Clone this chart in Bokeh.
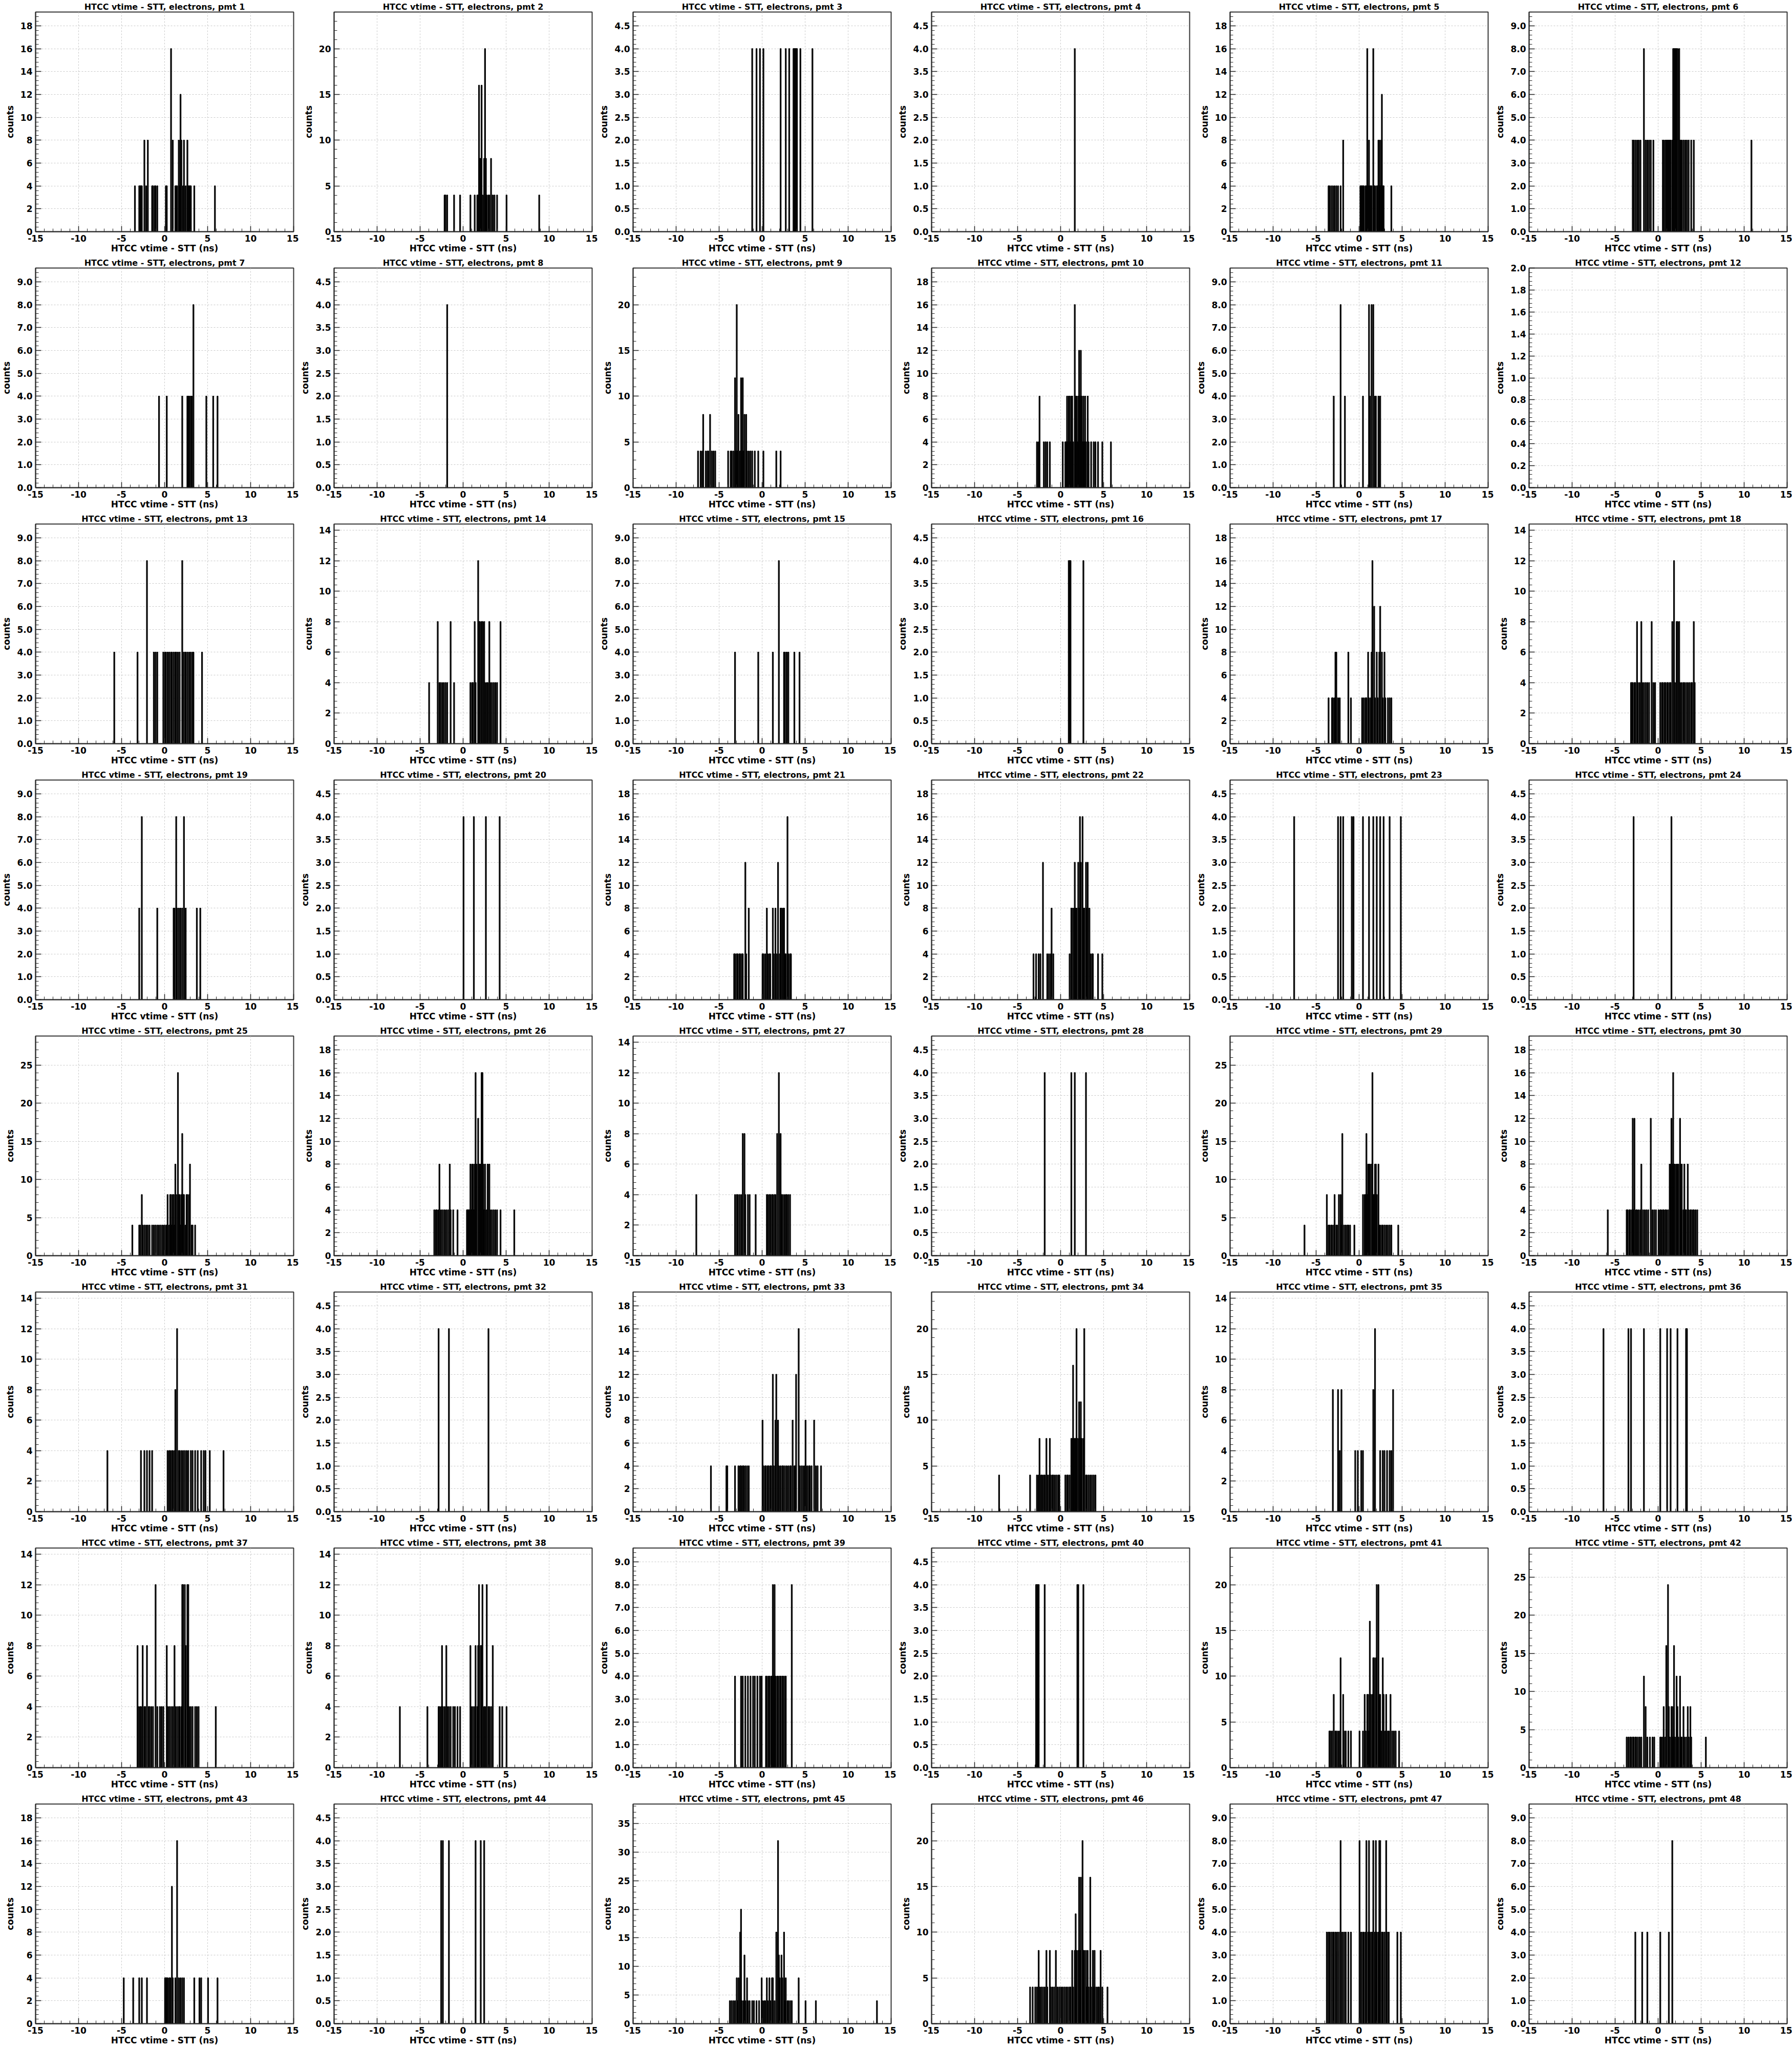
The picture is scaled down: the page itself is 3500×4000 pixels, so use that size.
import numpy as np
from bokeh.plotting import figure
from bokeh.layouts import gridplot
from bokeh.models import FixedTicker, NumeralTickFormatter, Range1d
from bokeh.embed import file_html
from bokeh.resources import INLINE

# ---------------- data: (time in ns, counts) of non-empty bins ----------------
pmt01 = [(-3.45,4),(-3.0,4),(-2.9,4),(-2.8,4),(-2.65,4),(-2.35,8),(-2.15,4),(-1.95,8),(-1.5,4),(-1.35,4),(-1.2,4),(-1.05,4),(-0.9,4),(0.15,4),(0.25,4),(0.75,16),(0.95,8),(1.2,4),(1.35,4),(1.45,4),(1.6,8),(1.75,4),(1.85,12),(1.95,8),(2.1,4),(2.25,8),(2.4,4),(2.6,8),(2.7,4),(2.8,4),(2.95,4),(3.05,4),(3.45,4),(5.85,4)]
pmt02 = [(-2.2,4),(-2.1,4),(-1.85,4),(-1.05,4),(-0.4,4),(0.8,4),(1.3,4),(1.6,4),(1.75,4),(1.85,16),(1.95,8),(2.05,8),(2.15,16),(2.25,4),(2.4,8),(2.55,20),(2.65,8),(2.75,4),(2.9,4),(3.0,4),(3.2,8),(3.4,4),(3.6,4),(3.95,4),(5.0,4),(8.8,4)]
pmt03 = [(-1.2,4),(-0.65,4),(-0.25,4),(0.15,4),(2.15,4),(2.7,4),(3.1,4),(3.65,4),(3.75,4),(3.85,4),(3.95,4),(4.05,4),(4.45,4),(5.8,4)]
pmt04 = [(1.65,4)]
pmt05 = [(-3.6,4),(-3.5,4),(-3.3,4),(-3.05,4),(-2.85,4),(-2.65,4),(-2.45,4),(-2.15,4),(-1.9,8),(0.1,4),(0.2,4),(0.3,4),(0.45,4),(0.55,4),(0.7,4),(0.8,4),(0.9,16),(1.0,4),(1.1,8),(1.2,4),(1.3,4),(1.45,4),(1.6,16),(1.7,4),(1.85,4),(2.0,4),(2.15,4),(2.25,8),(2.35,8),(2.45,4),(2.55,8),(2.65,12),(2.75,4),(2.85,4),(3.75,4)]
pmt06 = [(-3.0,4),(-2.85,4),(-2.7,4),(-2.5,4),(-2.3,4),(-2.1,4),(-1.7,8),(-1.45,4),(-1.3,4),(-1.1,4),(-0.9,4),(-0.55,4),(0.5,4),(0.65,4),(0.8,4),(0.9,4),(1.0,4),(1.1,4),(1.2,4),(1.3,4),(1.45,4),(1.6,4),(1.75,8),(1.85,8),(1.95,8),(2.05,8),(2.15,8),(2.25,8),(2.4,8),(2.5,4),(2.6,4),(2.75,4),(2.95,4),(3.1,4),(3.3,4),(3.55,4),(3.8,4),(4.15,4),(10.8,4)]
pmt07 = [(-0.65,4),(0.25,4),(2.05,4),(2.6,4),(2.75,4),(2.85,4),(3.0,4),(3.1,4),(3.35,8),(4.85,4),(5.65,4),(6.1,4)]
pmt08 = [(-1.9,4)]
pmt09 = [(-7.5,4),(-7.2,4),(-7.0,4),(-6.85,8),(-6.6,4),(-6.4,4),(-6.3,4),(-6.05,8),(-5.9,4),(-5.7,4),(-5.5,4),(-3.95,4),(-3.7,4),(-3.55,4),(-3.4,4),(-3.15,12),(-3.05,4),(-2.95,20),(-2.85,4),(-2.75,8),(-2.6,4),(-2.5,12),(-2.4,4),(-2.25,12),(-2.15,4),(-2.05,8),(-1.9,8),(-1.75,4),(-1.6,4),(-1.4,4),(-1.2,4),(-0.9,4),(-0.5,4),(0.1,4),(1.6,4),(2.1,4)]
pmt10 = [(-2.75,4),(-2.6,4),(-2.45,8),(-2.0,4),(-1.75,4),(-1.55,4),(-1.3,4),(0.25,4),(0.5,4),(0.65,4),(0.75,8),(0.85,4),(0.95,8),(1.05,8),(1.15,4),(1.25,8),(1.35,8),(1.45,4),(1.6,16),(1.7,8),(1.8,8),(1.9,4),(2.0,8),(2.1,12),(2.2,8),(2.35,12),(2.45,8),(2.55,4),(2.65,8),(2.75,4),(2.85,8),(2.95,4),(3.1,8),(3.2,4),(3.55,4),(3.8,4),(4.05,4),(4.35,4),(4.8,4),(5.85,4)]
pmt11 = [(-2.95,4),(-2.15,8),(-1.65,4),(0.45,4),(1.1,8),(1.25,4),(1.4,8),(1.6,8),(1.8,4),(1.95,4),(2.2,4),(2.45,4)]
pmt12 = []
pmt13 = [(-5.9,4),(-3.2,4),(-2.1,8),(-1.3,4),(-1.1,4),(-0.85,4),(-0.15,4),(0.0,4),(0.15,4),(0.35,4),(0.55,4),(0.7,4),(0.85,4),(1.0,4),(1.2,4),(1.35,4),(1.55,4),(1.75,4),(2.0,8),(2.1,4),(2.3,4),(2.45,4),(2.6,4),(2.8,4),(3.05,4),(3.2,4),(3.35,4),(4.35,4)]
pmt14 = [(-4.0,4),(-3.0,8),(-2.8,4),(-2.65,4),(-2.45,4),(-2.3,4),(-2.05,4),(-1.85,4),(-1.5,8),(-1.05,4),(0.8,4),(1.0,4),(1.15,4),(1.3,8),(1.45,4),(1.7,12),(1.85,8),(1.95,8),(2.1,8),(2.25,8),(2.4,8),(2.55,4),(2.7,4),(2.85,4),(3.0,8),(3.15,4),(3.3,4),(3.5,4),(3.7,4),(3.9,4),(4.3,8)]
pmt15 = [(-3.2,4),(-0.45,4),(1.25,4),(1.9,8),(2.5,4),(2.65,4),(2.8,4),(3.0,4),(3.7,4),(4.35,4)]
pmt16 = [(0.9,4),(1.0,4),(1.1,4),(2.65,4)]
pmt17 = [(-3.6,4),(-3.2,4),(-3.05,4),(-2.9,4),(-2.75,8),(-2.65,8),(-2.5,4),(-2.3,4),(-1.25,8),(-1.0,4),(0.35,4),(0.55,4),(0.7,4),(0.85,4),(1.0,8),(1.15,4),(1.3,4),(1.4,8),(1.5,16),(1.7,12),(1.85,4),(2.0,8),(2.15,4),(2.3,8),(2.45,12),(2.6,8),(2.75,4),(2.9,8),(3.05,4),(3.3,4),(3.5,4),(3.7,4)]
pmt18 = [(-3.2,4),(-3.1,4),(-2.95,4),(-2.8,4),(-2.65,4),(-2.5,8),(-2.35,4),(-2.2,4),(-2.0,8),(-1.85,4),(-1.7,4),(-1.5,4),(-1.3,4),(-1.1,4),(-0.8,8),(-0.6,4),(-0.35,4),(0.25,4),(0.4,4),(0.55,4),(0.7,4),(0.85,4),(1.0,4),(1.15,4),(1.3,4),(1.45,4),(1.6,8),(1.8,12),(1.95,4),(2.1,8),(2.25,8),(2.4,8),(2.55,4),(2.7,4),(2.9,4),(3.05,4),(3.25,4),(3.45,4),(3.6,4),(3.8,4),(3.95,4),(4.1,8),(4.25,4)]
pmt19 = [(-2.95,4),(-2.65,8),(-0.9,4),(1.0,4),(1.15,4),(1.3,8),(1.45,4),(1.65,4),(1.85,4),(2.05,4),(2.2,8),(2.45,4),(3.75,4),(4.15,4)]
pmt20 = [(0.0,4),(1.2,4),(2.65,4),(4.2,4)]
pmt21 = [(-3.3,4),(-3.15,4),(-3.0,4),(-2.85,4),(-2.7,4),(-2.55,4),(-2.4,4),(-2.25,4),(-2.0,12),(-1.85,4),(-1.6,8),(0.0,4),(0.15,4),(0.3,4),(0.5,8),(0.65,4),(0.8,4),(0.95,4),(1.2,8),(1.35,4),(1.55,8),(1.65,4),(1.85,12),(2.0,4),(2.1,8),(2.25,8),(2.4,8),(2.5,8),(2.6,4),(2.75,4),(2.9,16),(3.05,4),(3.2,4),(3.3,4)]
pmt22 = [(-3.15,4),(-2.85,4),(-2.6,4),(-2.4,4),(-2.1,12),(-1.6,4),(-1.4,4),(-1.2,4),(-1.05,8),(-0.9,4),(1.05,4),(1.2,8),(1.35,8),(1.5,8),(1.6,12),(1.75,8),(1.85,8),(2.0,12),(2.15,8),(2.25,16),(2.35,12),(2.5,16),(2.6,8),(2.75,8),(2.9,12),(3.0,8),(3.15,12),(3.3,8),(3.45,4),(3.6,4),(3.75,4),(4.35,4),(4.85,4)]
pmt23 = [(-7.55,4),(-2.45,4),(-2.2,4),(-1.9,4),(-0.85,4),(-0.65,4),(0.45,4),(1.1,4),(1.65,4),(2.05,4),(2.45,4),(2.85,4),(3.5,4),(4.8,4)]
pmt24 = [(-2.9,4),(1.5,4)]
pmt25 = [(-3.8,4),(-3.0,4),(-2.85,4),(-2.7,8),(-2.55,4),(-2.35,4),(-2.15,4),(-1.95,4),(-1.75,4),(-1.5,4),(-1.3,4),(-1.1,4),(-0.9,4),(-0.7,4),(-0.45,4),(-0.25,4),(-0.1,4),(0.1,4),(0.25,4),(0.35,8),(0.5,4),(0.6,8),(0.75,8),(0.85,4),(0.95,8),(1.05,8),(1.15,4),(1.25,12),(1.35,8),(1.5,24),(1.6,8),(1.7,8),(1.8,4),(1.9,8),(2.05,16),(2.15,8),(2.25,8),(2.4,4),(2.5,8),(2.65,8),(2.8,8),(2.95,12),(3.1,4),(3.25,4),(3.5,4)]
pmt26 = [(-3.35,4),(-3.2,4),(-3.05,4),(-2.9,4),(-2.75,8),(-2.6,4),(-2.4,4),(-2.2,4),(-2.0,4),(-1.8,4),(-1.6,8),(-1.45,4),(-1.2,4),(-0.65,4),(0.4,4),(0.5,4),(0.6,4),(0.7,4),(0.8,8),(0.9,4),(1.0,8),(1.1,8),(1.2,4),(1.3,8),(1.45,16),(1.55,8),(1.7,12),(1.8,8),(1.9,8),(2.0,8),(2.1,16),(2.2,16),(2.3,8),(2.4,4),(2.55,8),(2.7,4),(2.85,8),(3.0,8),(3.15,4),(3.3,4),(3.5,4),(3.7,4),(3.9,4),(4.35,4),(5.9,4)]
pmt27 = [(-7.7,4),(-3.15,4),(-3.0,4),(-2.85,4),(-2.65,4),(-2.45,4),(-2.25,8),(-2.1,8),(-1.95,4),(-1.7,4),(-1.45,4),(-0.8,4),(0.5,4),(0.65,4),(0.8,4),(0.95,4),(1.1,4),(1.25,4),(1.4,4),(1.55,4),(1.7,8),(1.9,12),(2.1,8),(2.2,4),(2.35,4),(2.5,4),(2.7,4),(2.85,4),(3.05,4),(3.2,4)]
pmt28 = [(-1.85,4),(1.25,4),(1.6,4),(2.95,4)]
pmt29 = [(-6.4,4),(-3.75,8),(-3.6,4),(-3.45,4),(-3.3,4),(-3.15,4),(-3.0,4),(-2.85,8),(-2.7,4),(-2.55,4),(-2.4,8),(-2.2,8),(-2.1,4),(-1.95,16),(-1.8,4),(-1.6,4),(-1.4,4),(-1.25,4),(-1.1,4),(-0.6,4),(0.45,8),(0.6,8),(0.7,8),(0.85,16),(0.95,8),(1.0,12),(1.15,12),(1.25,12),(1.4,12),(1.5,24),(1.6,8),(1.7,8),(1.8,12),(1.95,12),(2.05,8),(2.2,12),(2.3,4),(2.45,4),(2.6,4),(2.75,4),(2.9,4),(3.1,4),(3.3,4),(3.5,4),(3.75,4),(4.55,4)]
pmt30 = [(-5.9,4),(-3.7,4),(-3.55,4),(-3.4,4),(-3.25,4),(-3.1,4),(-3.0,12),(-2.85,4),(-2.75,12),(-2.6,4),(-2.45,4),(-2.3,4),(-2.1,4),(-1.95,8),(-1.8,4),(-1.6,4),(-1.4,4),(-1.2,4),(-0.9,12),(-0.7,4),(-0.45,4),(-0.25,4),(0.05,4),(0.2,4),(0.35,4),(0.5,4),(0.65,4),(0.8,4),(0.95,4),(1.1,4),(1.3,8),(1.4,8),(1.5,12),(1.6,8),(1.75,16),(1.85,8),(1.95,8),(2.1,8),(2.25,8),(2.35,8),(2.5,12),(2.6,8),(2.75,8),(2.9,4),(3.05,8),(3.15,4),(3.25,4),(3.4,8),(3.55,4),(3.7,4),(3.85,4),(4.0,4),(4.15,4),(4.35,4),(4.5,4)]
pmt31 = [(-6.65,4),(-2.75,4),(-2.4,4),(-2.1,4),(-1.8,4),(-1.5,4),(0.35,4),(0.5,4),(0.65,4),(0.8,4),(0.95,4),(1.1,4),(1.25,8),(1.45,12),(1.6,4),(1.75,4),(1.95,4),(2.1,4),(2.3,4),(2.5,4),(2.7,4),(3.0,4),(3.25,4),(3.5,4),(3.85,4),(4.2,4),(4.5,4),(4.75,4),(5.2,4),(6.85,4)]
pmt32 = [(-2.85,4),(-1.7,4),(2.95,4)]
pmt33 = [(-6.0,4),(-4.2,4),(-4.1,4),(-3.2,4),(-2.75,4),(-2.6,4),(-2.45,4),(-2.3,4),(-2.15,4),(-2.0,4),(-1.8,4),(-1.6,4),(0.0,8),(0.15,4),(0.3,4),(0.45,4),(0.6,4),(0.75,4),(0.9,4),(1.05,4),(1.25,12),(1.35,4),(1.5,8),(1.65,12),(1.8,8),(1.95,4),(2.1,4),(2.3,4),(2.45,4),(2.6,4),(2.8,4),(3.0,4),(3.2,4),(3.35,4),(3.55,8),(3.7,4),(3.85,4),(3.95,12),(4.2,16),(4.35,4),(4.5,4),(4.7,4),(4.9,4),(5.05,8),(5.2,4),(5.4,4),(5.55,4),(5.75,4),(6.05,8),(6.25,4),(6.45,4),(6.85,4)]
pmt34 = [(-7.2,4),(-3.6,4),(-2.75,4),(-2.6,4),(-2.45,8),(-2.3,4),(-2.15,4),(-2.0,4),(-1.85,4),(-1.7,8),(-1.55,4),(-1.4,4),(-1.3,8),(-1.15,4),(-1.0,4),(-0.85,4),(-0.65,4),(-0.45,4),(-0.3,4),(-0.15,4),(0.55,4),(0.7,4),(0.85,4),(1.0,4),(1.2,8),(1.3,8),(1.4,16),(1.5,8),(1.6,8),(1.75,8),(1.85,20),(1.95,8),(2.1,12),(2.2,8),(2.35,12),(2.45,8),(2.6,8),(2.75,20),(2.9,4),(3.05,4),(3.2,4),(3.4,4),(3.6,4),(3.8,4),(4.05,4)]
pmt35 = [(-3.1,8),(-2.45,8),(-2.3,4),(-2.1,8),(-0.45,4),(-0.2,4),(0.25,4),(0.45,4),(1.65,8),(1.8,12),(2.45,4),(2.7,4),(2.95,4),(3.2,4),(3.5,4),(3.75,4),(3.95,8)]
pmt36 = [(-6.4,4),(-3.5,4),(-3.15,4),(-1.65,4),(0.25,4),(1.05,4),(1.45,4),(2.25,4),(3.2,4),(3.35,4)]
pmt37 = [(-3.2,8),(-3.05,4),(-2.9,4),(-2.75,4),(-2.55,8),(-2.4,4),(-2.25,4),(-2.05,8),(-1.9,4),(-1.75,4),(-1.55,4),(-1.35,4),(-1.05,12),(-0.85,4),(-0.6,4),(-0.4,4),(-0.2,4),(0.2,8),(0.35,4),(0.55,4),(0.7,4),(0.9,4),(1.1,8),(1.25,4),(1.4,4),(1.6,4),(1.75,4),(1.9,4),(2.05,12),(2.15,12),(2.3,12),(2.45,8),(2.6,12),(2.7,12),(2.85,4),(3.05,4),(3.25,4),(3.5,4),(3.75,4),(3.95,4),(5.9,4)]
pmt38 = [(-7.35,4),(-4.2,4),(-2.85,4),(-2.75,4),(-2.6,4),(-2.5,8),(-2.35,4),(-2.2,4),(-2.0,8),(-1.85,4),(-1.65,4),(-1.45,4),(-1.2,4),(-1.0,4),(-0.7,4),(-0.4,4),(0.8,8),(0.95,4),(1.1,4),(1.3,4),(1.45,8),(1.6,4),(1.75,8),(1.85,12),(2.0,8),(2.15,8),(2.25,12),(2.4,4),(2.55,4),(2.75,12),(2.9,4),(3.05,4),(3.2,4),(3.4,8),(4.2,4),(4.5,4),(5.0,4)]
pmt39 = [(-3.15,4),(-2.5,4),(-2.25,4),(-1.95,4),(-1.7,4),(-1.4,4),(-1.1,4),(-0.85,4),(-0.6,4),(-0.3,4),(-0.1,4),(0.4,4),(0.55,4),(0.7,4),(0.85,4),(1.0,4),(1.1,4),(1.2,8),(1.3,4),(1.45,8),(1.55,4),(1.7,4),(1.85,4),(2.0,4),(2.15,4),(2.3,4),(2.45,4),(2.6,4),(2.75,4),(3.4,8)]
pmt40 = [(-2.9,4),(-2.8,4),(-2.7,4),(-2.55,4),(-1.85,4),(1.95,4),(2.05,4),(2.65,4)]
pmt41 = [(-3.5,4),(-3.35,4),(-3.2,4),(-2.95,8),(-2.8,4),(-2.65,4),(-2.5,4),(-2.3,4),(-2.15,12),(-1.9,8),(-1.75,4),(-1.55,4),(-1.3,4),(-1.0,4),(0.05,4),(0.45,4),(0.6,8),(0.75,4),(0.9,8),(1.0,8),(1.1,4),(1.25,16),(1.35,8),(1.5,8),(1.6,12),(1.75,12),(1.9,12),(2.05,20),(2.2,20),(2.3,8),(2.45,8),(2.55,4),(2.7,12),(2.85,8),(3.0,4),(3.15,8),(3.3,4),(3.45,4),(3.6,8),(3.8,4),(4.0,4),(4.2,4),(4.65,4)]
pmt42 = [(-3.7,4),(-3.5,4),(-3.3,4),(-3.15,4),(-3.0,4),(-2.85,4),(-2.7,4),(-2.55,4),(-2.35,4),(-2.15,4),(-1.95,4),(-1.7,12),(-1.45,8),(-1.3,4),(-1.0,4),(-0.7,4),(-0.5,4),(0.2,4),(0.35,4),(0.5,4),(0.65,8),(0.8,4),(0.9,16),(1.1,24),(1.25,8),(1.35,4),(1.5,8),(1.6,8),(1.75,4),(1.85,16),(1.95,4),(2.1,12),(2.2,8),(2.35,4),(2.5,12),(2.6,4),(2.75,4),(2.9,8),(3.05,4),(3.2,4),(3.4,8),(3.55,4),(3.7,8),(3.85,4),(5.5,4)]
pmt43 = [(-4.75,4),(-3.7,4),(-2.95,4),(-2.7,4),(-2.1,4),(0.05,4),(0.15,4),(0.25,4),(0.35,4),(0.5,4),(0.6,4),(0.8,12),(0.95,4),(1.2,4),(1.45,16),(1.6,4),(1.8,4),(2.0,4),(2.2,4),(3.4,4),(4.0,4),(4.2,4),(5.05,4),(6.1,4)]
pmt44 = [(-2.6,4),(-2.35,4),(-1.7,4),(1.45,4),(2.0,4),(2.45,4)]
pmt45 = [(-3.8,4),(-3.6,4),(-3.4,4),(-3.2,4),(-3.0,8),(-2.85,4),(-2.75,8),(-2.6,16),(-2.45,20),(-2.35,4),(-2.2,4),(-2.1,12),(-1.95,4),(-1.8,8),(-1.65,4),(-1.45,4),(-1.2,4),(-0.95,4),(-0.65,4),(-0.4,4),(-0.1,8),(0.05,4),(0.2,4),(0.35,4),(0.5,8),(0.65,4),(0.8,8),(0.95,4),(1.1,8),(1.25,8),(1.4,4),(1.6,16),(1.8,32),(1.95,12),(2.05,8),(2.25,12),(2.35,8),(2.5,16),(2.6,4),(2.75,8),(2.9,4),(3.05,4),(3.25,4),(3.45,4),(4.2,8),(5.0,4),(6.2,4),(13.3,4)]
pmt46 = [(-3.55,4),(-3.25,4),(-2.95,4),(-2.75,4),(-2.6,8),(-2.45,4),(-2.25,4),(-2.05,4),(-1.85,4),(-1.7,8),(-1.55,4),(-1.3,8),(-1.15,4),(-0.95,4),(-0.75,4),(-0.55,8),(-0.4,4),(-0.2,4),(0.0,4),(0.2,4),(0.4,4),(0.6,4),(0.8,4),(1.0,4),(1.15,4),(1.3,8),(1.45,4),(1.6,8),(1.7,12),(1.85,8),(2.0,8),(2.1,16),(2.2,8),(2.35,16),(2.5,20),(2.6,8),(2.75,8),(2.9,8),(3.0,4),(3.15,8),(3.25,4),(3.4,16),(3.55,4),(3.7,8),(3.8,4),(3.95,8),(4.1,4),(4.3,4),(4.45,4),(4.6,8),(4.8,4),(5.4,4)]
pmt47 = [(-3.75,4),(-3.6,4),(-3.45,4),(-3.3,4),(-3.1,4),(-2.95,4),(-2.8,4),(-2.6,4),(-2.4,4),(-2.2,8),(-2.0,4),(-1.8,4),(-1.55,4),(-1.3,4),(-1.0,4),(0.05,8),(0.25,4),(0.4,4),(0.55,4),(0.7,4),(0.85,8),(1.0,4),(1.1,8),(1.25,4),(1.4,4),(1.55,4),(1.65,8),(1.8,4),(1.9,8),(2.05,4),(2.2,4),(2.3,8),(2.45,8),(2.6,4),(2.75,4),(2.9,4),(3.1,8),(3.25,4),(3.45,4),(4.4,4),(4.8,4)]
pmt48 = [(-2.65,4),(-1.85,4),(-1.3,4),(0.25,4),(1.2,4),(1.6,8)]

PMT_DATA = [pmt01, pmt02, pmt03, pmt04, pmt05, pmt06, pmt07, pmt08, pmt09, pmt10,
            pmt11, pmt12, pmt13, pmt14, pmt15, pmt16, pmt17, pmt18, pmt19, pmt20,
            pmt21, pmt22, pmt23, pmt24, pmt25, pmt26, pmt27, pmt28, pmt29, pmt30,
            pmt31, pmt32, pmt33, pmt34, pmt35, pmt36, pmt37, pmt38, pmt39, pmt40,
            pmt41, pmt42, pmt43, pmt44, pmt45, pmt46, pmt47, pmt48]

X_MIN, X_MAX, BIN_W = -15.0, 15.0, 0.1
X_TICKS = [-15, -10, -5, 0, 5, 10, 15]
X_TICK_LABELS = ["-15", "-10", "-5", "0", "5", "10", "15"]
X_MINOR = list(range(-15, 16))
TITLE_FMT = "HTCC vtime - STT, electrons, pmt {}"
X_LABEL = "HTCC vtime - STT (ns)"
Y_LABEL = "counts"

FONT = "DejaVu Sans"
COL_W = [583, 584, 583, 583, 584, 583]
ROW_H = 500


def make_panel(idx, data, w):
    nb = int(round((X_MAX - X_MIN) / BIN_W))
    counts = np.zeros(nb)
    for t, c in data:
        k = int(np.floor((t - X_MIN) / BIN_W + 1e-6))
        counts[k] = max(counts[k], c)
    edges = X_MIN + BIN_W * np.arange(nb + 1)
    nz = np.nonzero(counts)[0]
    maxc = counts.max() if len(nz) else 0
    ymax = 2.0 if maxc == 0 else 1.2 * maxc
    step = 10
    for s in [0.2, 0.5, 1, 2, 5, 10]:
        if ymax / s <= 10 + 1e-9:
            step = s
            break
    nmaj = int(np.floor(ymax / step + 1e-9))
    yt = [round(k * step, 6) for k in range(nmaj + 1)]
    nmin = int(np.floor(ymax / (step / 5) + 1e-9))
    ym = [round(k * step / 5, 6) for k in range(nmin + 1)]

    p = figure(width=w, height=ROW_H, x_range=Range1d(X_MIN, X_MAX),
               y_range=Range1d(0, ymax), output_backend="svg",
               toolbar_location=None, min_border_left=64,
               min_border_right=10 + (w - 583), min_border_top=23,
               min_border_bottom=48, title=TITLE_FMT.format(idx))
    p.title.text_font = FONT
    p.title.text_font_style = "bold"
    p.title.text_font_size = "16px"
    p.title.align = "center"
    p.title.standoff = 2
    p.title.text_color = "#000000"

    p.outline_line_color = "#333333"
    p.outline_line_width = 2
    p.background_fill_color = "white"
    p.border_fill_color = "white"

    p.xgrid.ticker = FixedTicker(ticks=X_TICKS)
    p.ygrid.ticker = FixedTicker(ticks=yt)
    for g in (p.xgrid, p.ygrid):
        g.grid_line_color = "#c8c8c8"
        g.grid_line_dash = "3 3"
        g.grid_line_width = 1

    xa = p.xaxis[0]
    xa.ticker = FixedTicker(ticks=X_TICKS, minor_ticks=X_MINOR)
    xa.major_label_overrides = {t: s for t, s in zip(X_TICKS, X_TICK_LABELS)}
    xa.axis_label = X_LABEL
    ya = p.yaxis[0]
    ya.ticker = FixedTicker(ticks=yt, minor_ticks=ym)
    ya.axis_label = Y_LABEL
    ya.formatter = NumeralTickFormatter(format="0.0" if step <= 1 else "0")
    for ax in (xa, ya):
        ax.major_tick_in = 11
        ax.major_tick_out = 0
        ax.minor_tick_in = 6
        ax.minor_tick_out = 0
        ax.major_tick_line_color = "#222222"
        ax.minor_tick_line_color = "#222222"
        ax.major_tick_line_width = 1.5
        ax.axis_line_color = "#333333"
        ax.axis_line_width = 2
        ax.major_label_text_font = FONT
        ax.major_label_text_font_style = "bold"
        ax.major_label_text_font_size = "17px"
        ax.major_label_text_color = "#000000"
        ax.axis_label_text_font = FONT
        ax.axis_label_text_font_style = "bold"
        ax.axis_label_text_font_size = "17px"
        ax.axis_label_text_color = "#000000"
    xa.major_label_standoff = 6
    xa.axis_label_standoff = 0
    ya.major_label_standoff = 6
    ya.axis_label_standoff = 7

    if len(nz):
        p.quad(left=edges[nz], right=edges[nz + 1], bottom=0, top=counts[nz],
               fill_color=None, line_color="black", line_width=1.6)
    return p


figs = []
for i, d in enumerate(PMT_DATA):
    figs.append(make_panel(i + 1, d, COL_W[i % 6]))

grid = gridplot(figs, ncols=6, toolbar_location=None)

open("out.html", "w").write(file_html(grid, INLINE))
